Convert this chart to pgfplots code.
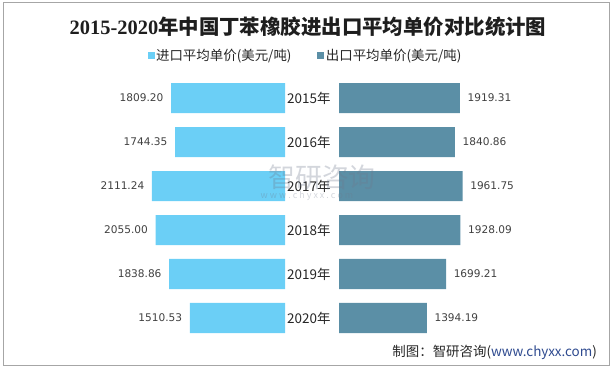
\documentclass[border=0pt]{standalone}
\usepackage{pgfplots}
\pgfplotsset{compat=1.18}
\usepackage{fontspec}
\setmainfont{Noto Sans CJK SC}
\newfontfamily\dv{DejaVu Sans}
\newfontfamily\tser{Liberation Serif}
\definecolor{impc}{HTML}{6BCFF6}
\definecolor{expc}{HTML}{5B8FA6}
\definecolor{lbl}{HTML}{404040}
\definecolor{frm}{HTML}{A6A6A6}
\definecolor{url}{HTML}{2E4A8F}
\begin{document}
\begin{tikzpicture}[x=1bp,y=1bp]
\path[use as bounding box] (0,0) rectangle (614,369);
\draw[frm, line width=1bp] (3,4) rectangle (609,366);
\node[font=\fontsize{20.5}{24}\selectfont\bfseries, text={rgb,255:red,30;green,30;blue,30}] at (308,342) {{\tser 2015-2020}年中国丁苯橡胶进出口平均单价对比统计图};

\begin{axis}[
  at={(285bp,293bp)}, anchor=north east,
  scale only axis, width=182.7bp, height=264bp,
  xmin=0, xmax=2900, x dir=reverse,
  ymin=-0.5, ymax=5.5, y dir=reverse,
  xbar, bar width=30bp, bar shift=0pt,
  axis line style={draw=none},
  xtick=\empty, ytick={0,1,2,3,4,5},
  yticklabels={2015年,2016年,2017年,2018年,2019年,2020年},
  yticklabel pos=right,
  major tick length=0pt,
  yticklabel style={font=\fontsize{13.5}{16}\selectfont, text={rgb,255:red,38;green,38;blue,38}, inner sep=2bp},
  nodes near coords, point meta=explicit symbolic,
  nodes near coords style={anchor=east, inner sep=0pt, xshift=-7.5bp, font=\dv\fontsize{10.6}{12}\selectfont, text=lbl},
  clip=false,
]
\addplot[fill=impc, draw=none] coordinates {
 (1809.20,0) [1809.20]
 (1744.35,1) [1744.35]
 (2111.24,2) [2111.24]
 (2055.00,3) [2055.00]
 (1838.86,4) [1838.86]
 (1510.53,5) [1510.53]
};
\end{axis}

\begin{axis}[
  at={(339bp,293bp)}, anchor=north west,
  scale only axis, width=182.7bp, height=264bp,
  xmin=0, xmax=2900,
  ymin=-0.5, ymax=5.5, y dir=reverse,
  xbar, bar width=30bp, bar shift=0pt,
  axis line style={draw=none},
  xtick=\empty, ytick=\empty,
  major tick length=0pt,
  nodes near coords, point meta=explicit symbolic,
  nodes near coords style={anchor=west, inner sep=0pt, xshift=7.5bp, font=\dv\fontsize{10.6}{12}\selectfont, text=lbl},
  clip=false,
  legend style={at={(-0.1834,1.0769)}, anchor=center, draw=none, fill=none,
    font=\fontsize{13.5}{16}\selectfont, text={rgb,255:red,38;green,38;blue,38},
    /tikz/every even column/.append style={column sep=24bp}},
  legend columns=2, legend cell align=left,
]
\addlegendimage{legend image code/.code={\fill[impc] (0bp,-3bp) rectangle (6bp,3bp);}}
\addlegendentry{进口平均单价(美元/吨)}
\addlegendimage{legend image code/.code={\fill[expc] (0bp,-3bp) rectangle (6bp,3bp);}}
\addlegendentry{出口平均单价(美元/吨)}
\addplot[fill=expc, draw=none, forget plot] coordinates {
 (1919.31,0) [1919.31]
 (1840.86,1) [1840.86]
 (1961.75,2) [1961.75]
 (1928.09,3) [1928.09]
 (1699.21,4) [1699.21]
 (1394.19,5) [1394.19]
};
\end{axis}

\node[font=\fontsize{27}{30}\selectfont, text={rgb,255:red,110;green,120;blue,140}, opacity=0.3] at (322,192) {智研咨询};
\node[font=\fontsize{9}{10}\selectfont, text={rgb,255:red,110;green,120;blue,140}, opacity=0.3] at (307,173) {w\ w\ w\ .\ c\ h\ y\ x\ x\ .\ c\ o\ m};
\node[anchor=east, font=\fontsize{13.5}{16}\selectfont, text={rgb,255:red,38;green,38;blue,38}, inner sep=0pt] at (597,17) {制图：智研咨询({\color{url}www.chyxx.com})};
\end{tikzpicture}
\end{document}
